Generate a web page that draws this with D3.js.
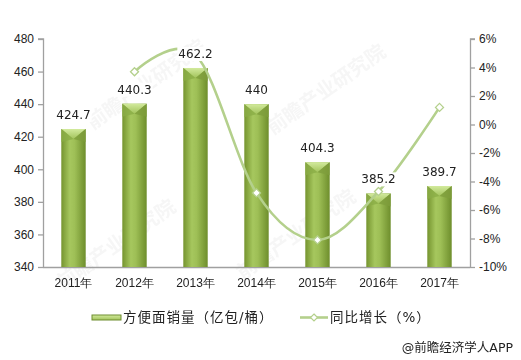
<!DOCTYPE html>
<html><head><meta charset="utf-8">
<script src="https://cdn.jsdelivr.net/npm/d3@7"></script>
<style>
html,body{margin:0;padding:0;background:#fff;}
svg{display:block;font-family:"DejaVu Sans","Noto Sans CJK SC",sans-serif;}
</style></head>
<body>
<svg id="chart" width="521" height="360"></svg>
<script>
const years = ["2011年","2012年","2013年","2014年","2015年","2016年","2017年"];
const sales = [424.7, 440.3, 462.2, 440, 404.3, 385.2, 389.7];
const growth = [null, 3.7, 4.9, -4.8, -8.1, -4.7, 1.2];
const leftTicks = [340, 360, 380, 400, 420, 440, 460, 480];
const rightTicks = [-10, -8, -6, -4, -2, 0, 2, 4, 6];
const legendLabels = ["方便面销量（亿包/桶）", "同比增长（%）"];
const sourceText = "@前瞻经济学人APP";
const watermark = "前瞻产业研究院";

const svg = d3.select("#chart");
const m = {left: 43, right: 470, top: 39, bottom: 267};
const x = d3.scaleBand().domain(years).range([m.left, m.right]).paddingInner(0.6).paddingOuter(0.3);
const yL = d3.scaleLinear().domain([340, 480]).range([m.bottom, m.top]);
const yR = d3.scaleLinear().domain([-10, 6]).range([m.bottom, m.top]);

const defs = svg.append("defs");
const g1 = defs.append("linearGradient").attr("id", "barGrad").attr("x1", "0").attr("x2", "1").attr("y1", "0").attr("y2", "0");
[["0%", "#75942f"], ["35%", "#a6c75e"], ["55%", "#9ebf56"], ["100%", "#6e8e2c"]].forEach(s => g1.append("stop").attr("offset", s[0]).attr("stop-color", s[1]));
const g2 = defs.append("linearGradient").attr("id", "capGrad").attr("x1", "0").attr("x2", "0").attr("y1", "0").attr("y2", "1");
[["0%", "#d2ea9c"], ["100%", "#a2c35c"]].forEach(s => g2.append("stop").attr("offset", s[0]).attr("stop-color", s[1]));

// faint watermarks
const wm = svg.append("g").attr("fill", "#9a9a9a").attr("opacity", 0.09).style("font-weight", "bold");
[[150, 90], [330, 95], [120, 250], [300, 240]].forEach(p => {
  wm.append("text").attr("transform", `translate(${p[0]},${p[1]}) rotate(-35)`).attr("text-anchor", "middle")
    .style("font-size", "20px").text(watermark);
});

// axes
const axisColor = "#a0a0a0";
const gl = svg.append("g").attr("transform", `translate(${m.left},0)`)
  .call(d3.axisLeft(yL).tickValues(leftTicks).tickSize(5).tickPadding(4));
const gr = svg.append("g").attr("transform", `translate(${m.right},0)`)
  .call(d3.axisRight(yR).tickValues(rightTicks).tickSize(5).tickPadding(4).tickFormat(d => d + "%"));
const gb = svg.append("g").attr("transform", `translate(0,${m.bottom})`)
  .call(d3.axisBottom(x).tickSize(0).tickPadding(11));
[gl, gr, gb].forEach(g => {
  g.selectAll("path,line").attr("stroke", axisColor).attr("stroke-width", 1.3);
  g.selectAll("text").attr("fill", "#222").style("font-size", "12px");
});
gb.select(".domain").attr("d", `M${m.left},0.5H${m.right}`);
gl.select(".domain").attr("d", `M-5,${m.top}H0.5V${m.bottom}`);
gr.select(".domain").attr("d", `M5,${m.top}H0.5V${m.bottom}`);

// bars
const bw = x.bandwidth();
const bars = svg.append("g");
years.forEach((yr, i) => {
  const x0 = x(yr), top = yL(sales[i]);
  bars.append("rect").attr("x", x0).attr("y", top).attr("width", bw).attr("height", m.bottom - top).attr("fill", "url(#barGrad)");
  const ch = 10;
  bars.append("path").attr("d", `M${x0},${top}L${x0 + bw},${top}L${x0 + bw / 2},${top + ch}Z`).attr("fill", "url(#capGrad)");
  bars.append("path").attr("d", `M${x0},${top}L${x0 + bw / 2},${top + ch}L${x0},${top + ch + 3}Z`).attr("fill", "#8aac46").attr("opacity", 0.8);
  bars.append("path").attr("d", `M${x0 + bw},${top}L${x0 + bw / 2},${top + ch}L${x0 + bw},${top + ch + 3}Z`).attr("fill", "#7e9e3c").attr("opacity", 0.8);
});

// line
const lineColor = "#b4d08c";
const pts = years.map((yr, i) => [x(yr) + bw / 2, growth[i]]).filter(d => d[1] !== null);
const line = d3.line().x(d => d[0]).y(d => yR(d[1])).curve(d3.curveCardinal.tension(0));
svg.append("path").attr("d", line(pts)).attr("fill", "none").attr("stroke", lineColor).attr("stroke-width", 2.6);
svg.append("g").selectAll("path").data(pts).join("path")
  .attr("transform", d => `translate(${d[0]},${yR(d[1])})`)
  .attr("d", "M0,-4L4,0L0,4L-4,0Z").attr("fill", "#fff").attr("stroke", lineColor).attr("stroke-width", 1.3);

// value labels
const lbl = svg.append("g");
years.forEach((yr, i) => {
  const cx = x(yr) + bw / 2, by = yL(sales[i]) - 10;
  const t = lbl.append("text").attr("x", cx).attr("y", by).attr("text-anchor", "middle")
    .attr("fill", "#222").style("font-size", "12px").text(sales[i]);
  const bb = t.node().getBBox();
  lbl.insert("rect", () => t.node()).attr("x", bb.x - 1).attr("y", bb.y).attr("width", bb.width + 2).attr("height", bb.height).attr("fill", "#fff");
});

// legend
const lg = svg.append("g");
lg.append("rect").attr("x", 92).attr("y", 315).attr("width", 29).attr("height", 5).attr("fill", "url(#capGrad)").attr("stroke", "#6f8d30").attr("stroke-width", 1);
lg.append("text").attr("x", 123).attr("y", 322).style("font-size", "13.5px").style("letter-spacing", "1px").attr("fill", "#222").text(legendLabels[0]);
lg.append("line").attr("x1", 300).attr("x2", 328).attr("y1", 317.5).attr("y2", 317.5).attr("stroke", lineColor).attr("stroke-width", 2.6);
lg.append("path").attr("transform", "translate(314,317.5)").attr("d", "M0,-3.5L3.5,0L0,3.5L-3.5,0Z").attr("fill", "#fff").attr("stroke", lineColor).attr("stroke-width", 1.2);
lg.append("text").attr("x", 330).attr("y", 322).style("font-size", "13.5px").style("letter-spacing", "1px").attr("fill", "#222").text(legendLabels[1]);

svg.append("text").attr("x", 513).attr("y", 352).attr("text-anchor", "end").style("font-size", "12.5px").attr("fill", "#222").text(sourceText);
</script>
</body></html>
